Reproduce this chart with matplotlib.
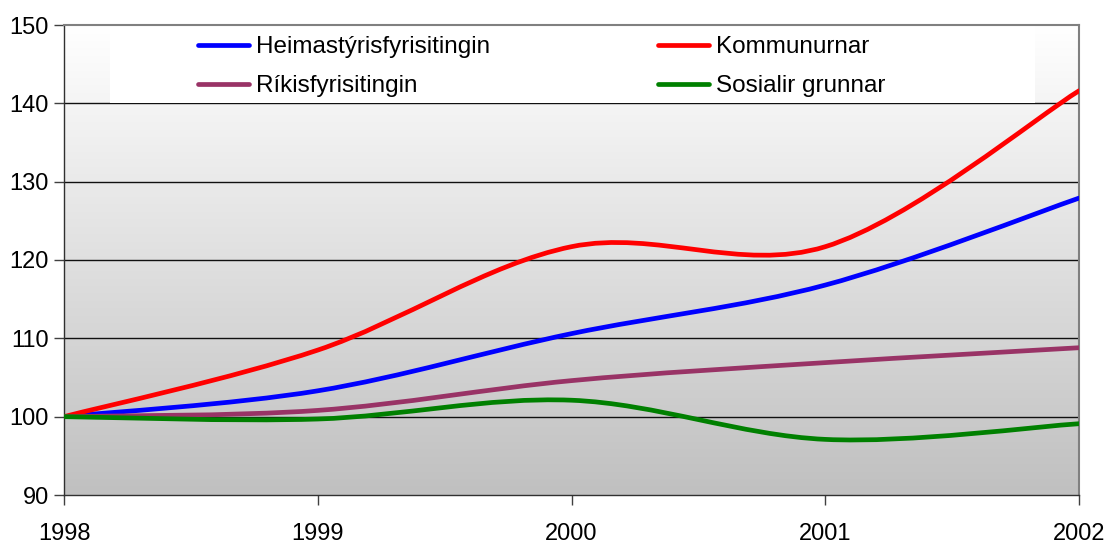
import numpy as np
import matplotlib
matplotlib.use("Agg")
import matplotlib.pyplot as plt
from matplotlib.path import Path
from matplotlib.patches import PathPatch, Rectangle
from matplotlib.lines import Line2D
from matplotlib.colors import LinearSegmentedColormap

plt.rcParams['font.family'] = ['Liberation Sans', 'DejaVu Sans']

years = [1998, 1999, 2000, 2001, 2002]
heimastyri = [100, 103.3, 110.6, 116.8, 127.9]
kommunurnar = [100, 108.5, 121.7, 121.7, 141.6]
rikisfyri = [100, 100.8, 104.6, 106.9, 108.8]
sosialir = [100, 99.7, 102.1, 97.1, 99.1]

labels = ['Heimastýrisfyrisitingin', 'Kommunurnar', 'Ríkisfyrisitingin', 'Sosialir grunnar']
colors = ['#0000ff', '#ff0000', '#993366', '#008000']
series = [heimastyri, kommunurnar, rikisfyri, sosialir]


def smooth_path(x, y):
    # excel-like smoothed line: bezier segments, catmull-rom control points
    pts = np.column_stack([x, y]).astype(float)
    ext = np.vstack([pts[0], pts, pts[-1]])
    verts = [pts[0]]
    codes = [Path.MOVETO]
    for i in range(len(pts) - 1):
        p0, p1, p2, p3 = ext[i], ext[i + 1], ext[i + 2], ext[i + 3]
        verts += [p1 + (p2 - p0) / 6, p2 - (p3 - p1) / 6, p2]
        codes += [Path.CURVE4] * 3
    return Path(verts, codes)


fig = plt.figure(figsize=(11.16, 5.5), dpi=100)
ax = fig.add_axes([64 / 1116, 55 / 550, 1015 / 1116, 470 / 550])
ax.set_xlim(1998, 2002)
ax.set_ylim(90, 150)

# gradient background
cmap = LinearSegmentedColormap.from_list('bg', ['#c0c0c0', '#ffffff'])
grad = np.linspace(0, 1, 256).reshape(-1, 1)
ax.imshow(grad, cmap=cmap, aspect='auto', origin='lower',
          extent=[1998, 2002, 90, 150], zorder=0)

for v in [100, 110, 120, 130, 140]:
    ax.axhline(v, color='#101010', lw=1.0, zorder=1)

# legend box
ax.add_patch(Rectangle(((110 - 64) / 1015, (495 - 103) / 470), (1035 - 110) / 1015, 78 / 470 + 0.002,
                       transform=ax.transAxes, facecolor='white', edgecolor='none', zorder=2))

for s, c in zip(series, colors):
    ax.add_patch(PathPatch(smooth_path(years, s), fill=False, edgecolor=c, lw=3.4,
                           capstyle='round', joinstyle='round', zorder=3))

ax.set_xticks(years)
ax.set_xticklabels([str(y) for y in years])
ax.set_yticks([90, 100, 110, 120, 130, 140, 150])
ax.tick_params(axis='both', direction='out', length=7, width=1.0, color='#404040',
               labelsize=17)
ax.tick_params(axis='x', pad=13)
ax.tick_params(axis='y', pad=4)

for side in ['left', 'bottom']:
    ax.spines[side].set_color('#303030')
    ax.spines[side].set_linewidth(1.0)
for side in ['top', 'right']:
    ax.spines[side].set_color('#808080')
    ax.spines[side].set_linewidth(1.5)

handles = [Line2D([], [], color=c, lw=3.4, solid_capstyle='round') for c in colors]
leg_kw = dict(loc='upper left', frameon=False, fontsize=17.5, handlelength=2.1,
              handletextpad=0.28, labelspacing=0.7, borderpad=0, borderaxespad=0)
leg1 = ax.legend([handles[0], handles[2]], [labels[0], labels[2]],
                 bbox_to_anchor=((198 - 64) / 1015, 1.0 - 11 / 470), **leg_kw)
ax.add_artist(leg1)
ax.legend([handles[1], handles[3]], [labels[1], labels[3]],
          bbox_to_anchor=((658 - 64) / 1015, 1.0 - 11 / 470), **leg_kw)

fig.savefig('out.png', dpi=100)
